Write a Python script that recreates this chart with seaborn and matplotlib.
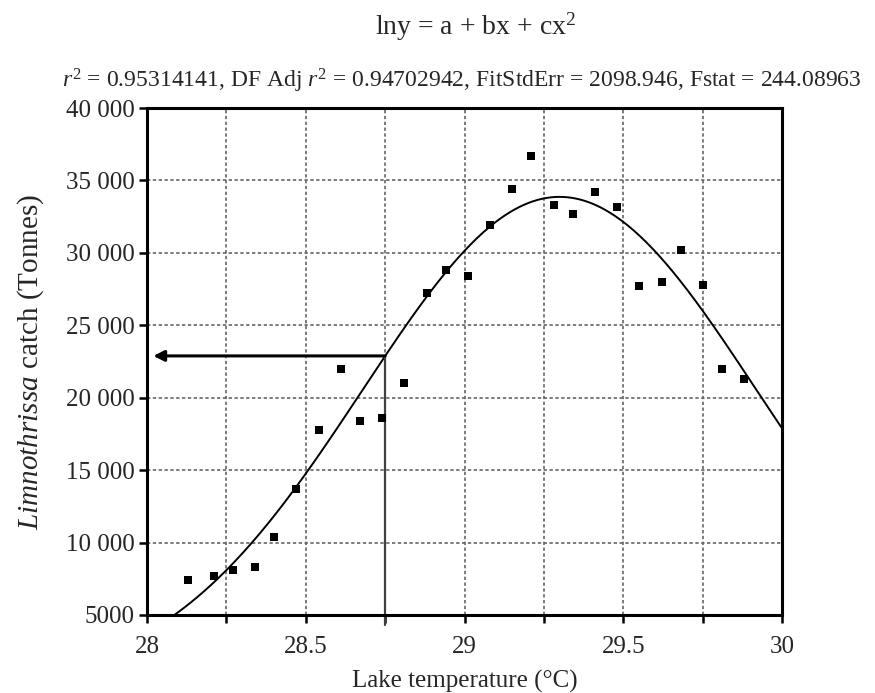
"""
plot.py
-------
Limnothrissa catch vs lake temperature with a log-quadratic fit.
"""

import numpy as np
import pandas as pd
import matplotlib
matplotlib.use("Agg")
import matplotlib.pyplot as plt
from matplotlib.ticker import MultipleLocator, FuncFormatter
import seaborn as sns

temperature = [28.13, 28.21, 28.27, 28.34, 28.40, 28.47, 28.54, 28.61, 28.67,
               28.74, 28.81, 28.88, 28.94, 29.01, 29.08, 29.15, 29.21, 29.28,
               29.34, 29.41, 29.48, 29.55, 29.62, 29.68, 29.75, 29.81, 29.88]
catch = [7400, 7700, 8100, 8300, 10400, 13700, 17800, 22000, 18400,
         18600, 21000, 27200, 28800, 28400, 31900, 34400, 36700, 33300,
         32700, 34200, 33200, 27700, 28000, 30200, 27800, 22000, 21300]

x_ticks = [28, 28.5, 29, 29.5, 30]
y_ticks = [5000, 10000, 15000, 20000, 25000, 30000, 35000, 40000]
read_temp = 28.75

sns.set_style("ticks")
plt.rcParams["font.family"] = ["Liberation Serif", "DejaVu Serif"]
plt.rcParams["mathtext.fontset"] = "custom"
plt.rcParams["mathtext.rm"] = "Liberation Serif"
plt.rcParams["mathtext.it"] = "Liberation Serif:italic"

df = pd.DataFrame({"temp": temperature, "catch": catch})

# ln y = a + b x + c x^2, least squares in catch units (weighted log fit)
c, b, a = np.polyfit(df["temp"], np.log(df["catch"]), 2, w=df["catch"])
xs = np.linspace(28.0, 30.0, 300)
fit = pd.DataFrame({"temp": xs, "catch": np.exp(a + b * xs + c * xs ** 2)})
y_read = np.exp(a + b * read_temp + c * read_temp ** 2)

fig = plt.figure(figsize=(8.75, 6.93), dpi=100)
ax = fig.add_axes([0.168, 0.1126, 0.726, 0.7315])

ax.set_axisbelow(True)
ax.xaxis.set_major_locator(MultipleLocator(0.5))
ax.xaxis.set_minor_locator(MultipleLocator(0.25))
ax.set_yticks(y_ticks)
ax.grid(which="both", color="0.4", linestyle=(0, (2, 1.5)), linewidth=1.2)

sns.lineplot(data=fit, x="temp", y="catch", color="black", linewidth=1.4,
             ax=ax)
sns.scatterplot(data=df, x="temp", y="catch", color="black", marker="s",
                s=28, edgecolor="black", linewidth=0, ax=ax, zorder=3)

# read-off lines
ax.plot([read_temp, read_temp], [4300, y_read], color="0.25", lw=1.6,
        clip_on=False)
ax.annotate("", xy=(28.02, y_read), xytext=(read_temp, y_read),
            arrowprops=dict(arrowstyle="-|>", color="black", lw=2.2,
                            mutation_scale=16, shrinkA=0, shrinkB=0))

ax.set_xlim(28, 30)
ax.set_ylim(5000, 40000)
ax.set_xticks(x_ticks)
ax.xaxis.set_major_formatter(FuncFormatter(lambda v, p: f"{v:g}"))
ax.yaxis.set_major_formatter(
    FuncFormatter(lambda v, p: f"{int(v)}" if v < 10000 else f"{int(v):,}".replace(",", " ")))
ax.tick_params(which="both", direction="out", length=6, width=1.8, labelsize=18,
               color="black")
ax.tick_params(axis="x", pad=9)
ax.tick_params(axis="y", pad=3)

for side in ["top", "right", "bottom", "left"]:
    ax.spines[side].set_visible(True)
    ax.spines[side].set_linewidth(2.2)
    ax.spines[side].set_color("black")

ax.set_xlabel("Lake temperature (°C)", fontsize=18, labelpad=9)
ax.set_ylabel(r"$\it{Limnothrissa}$ catch (Tonnes)", fontsize=21, labelpad=14)

fig.text(0.544, 0.962, r"lny = a + bx + cx$^2$", ha="center", va="center",
         fontsize=20)
fig.text(0.528, 0.883,
         r"$r^2$ = 0.95314141, DF Adj $r^2$ = 0.94702942, FitStdErr = 2098.946, Fstat = 244.08963",
         ha="center", va="center", fontsize=17)

fig.savefig("out.png", dpi=100)
